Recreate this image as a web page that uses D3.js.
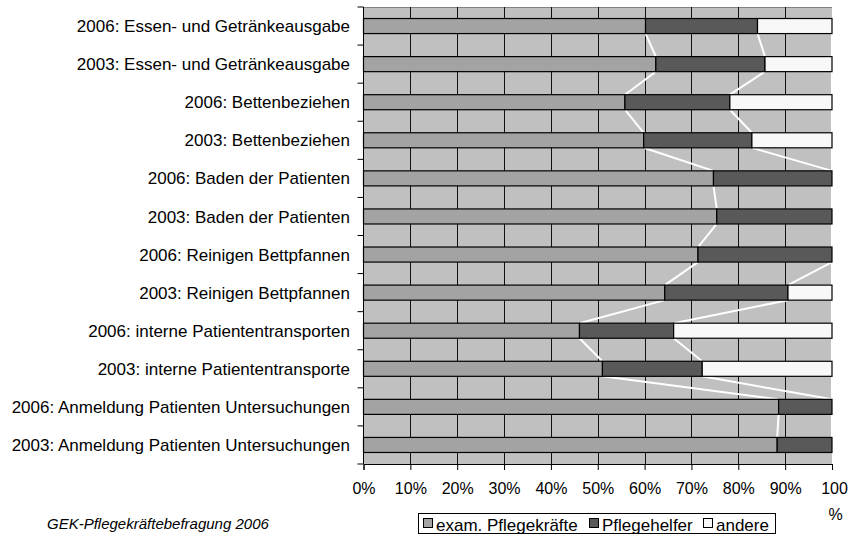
<!DOCTYPE html>
<html>
<head>
<meta charset="utf-8">
<script src="https://cdn.jsdelivr.net/npm/d3@7"></script>
<style>
  html, body { margin: 0; padding: 0; background: #fff; }
  svg { display: block; font-family: "Liberation Sans", Arial, sans-serif; }
</style>
</head>
<body>
<svg id="chart" width="851" height="541"></svg>
<script>
// Categories, top to bottom
const categories = [
  "2006: Essen- und Getränkeausgabe",
  "2003: Essen- und Getränkeausgabe",
  "2006: Bettenbeziehen",
  "2003: Bettenbeziehen",
  "2006: Baden der Patienten",
  "2003: Baden der Patienten",
  "2006: Reinigen Bettpfannen",
  "2003: Reinigen Bettpfannen",
  "2006: interne Patiententransporten",
  "2003: interne Patiententransporte",
  "2006: Anmeldung Patienten Untersuchungen",
  "2003: Anmeldung Patienten Untersuchungen"
];
// Shares in percent per group
const examPflegekraefte = [60.2, 62.4, 55.8, 59.8, 74.7, 75.4, 71.4, 64.3, 46.1, 51.0, 88.6, 88.3];
const pflegehelfer      = [23.9, 23.3, 22.4, 23.1, 25.3, 24.6, 28.6, 26.3, 20.1, 21.3, 11.4, 11.7];
const andere            = [15.9, 14.3, 21.8, 17.1,  0.0,  0.0,  0.0,  9.4, 33.8, 27.7,  0.0,  0.0];

const seriesNames = ["exam. Pflegekräfte", "Pflegehelfer", "andere"];
const seriesKeys = ["exam", "helfer", "andere"];
const colors = ["#a3a3a3", "#595959", "#f8f8f8"];
const xTicks = [0, 10, 20, 30, 40, 50, 60, 70, 80, 90, 100];
const sourceNote = "GEK-Pflegekräftebefragung 2006";

(function drawChart() {
  const rows = categories.map((c, i) => ({
    cat: c, exam: examPflegekraefte[i], helfer: pflegehelfer[i], andere: andere[i]
  }));

  const svg = d3.select("#chart");
  const plotL = 363.5, plotR = 832, plotT = 7, plotB = 464;

  const x = d3.scaleLinear().domain([0, 100]).range([plotL, plotR]);
  const y = d3.scaleBand().domain(categories).range([plotT, plotB])
    .paddingInner(0.605).paddingOuter(0.3025);
  const band = d3.scaleBand().domain(categories).range([plotT, plotB]);

  // plot area background
  svg.append("rect")
    .attr("x", plotL).attr("y", plotT)
    .attr("width", plotR - plotL).attr("height", plotB - plotT)
    .attr("fill", "#c0c0c0");

  // top border
  svg.append("line")
    .attr("x1", plotL).attr("x2", plotR).attr("y1", plotT + 0.5).attr("y2", plotT + 0.5)
    .attr("stroke", "#808080");

  // vertical gridlines
  svg.append("g").selectAll("line")
    .data(xTicks.filter(t => t > 0 && t < 100))
    .join("line")
    .attr("x1", d => Math.round(x(d)) + 0.5).attr("x2", d => Math.round(x(d)) + 0.5)
    .attr("y1", plotT).attr("y2", plotB)
    .attr("stroke", "#111").attr("stroke-width", 1);

  const stack = d3.stack().keys(seriesKeys)(rows);

  // series lines between consecutive bars
  const lineG = svg.append("g");
  stack.forEach(layer => {
    for (let i = 0; i < layer.length - 1; i++) {
      const a = layer[i], b = layer[i + 1];
      lineG.append("line")
        .attr("x1", x(a[1])).attr("y1", y(categories[i]) + y.bandwidth())
        .attr("x2", x(b[1])).attr("y2", y(categories[i + 1]))
        .attr("stroke", "#ffffff").attr("stroke-width", 2);
    }
  });

  // stacked bars
  svg.append("g").selectAll("g")
    .data(stack)
    .join("g")
    .attr("fill", (d, i) => colors[i])
    .selectAll("rect")
    .data(d => d.map((v, i) => ({ v, cat: categories[i] })).filter(e => e.v[1] - e.v[0] > 0))
    .join("rect")
    .attr("x", d => x(d.v[0]))
    .attr("y", d => y(d.cat))
    .attr("width", d => x(d.v[1]) - x(d.v[0]))
    .attr("height", y.bandwidth())
    .attr("stroke", "#000").attr("stroke-width", 1.2);

  // left axis with ticks at band boundaries
  svg.append("line")
    .attr("x1", plotL).attr("x2", plotL).attr("y1", plotT).attr("y2", plotB)
    .attr("stroke", "#000");
  const boundaries = categories.map(c => band(c)).concat([plotB]);
  svg.append("g").selectAll("line")
    .data(boundaries).join("line")
    .attr("x1", plotL - 6).attr("x2", plotL)
    .attr("y1", d => d).attr("y2", d => d)
    .attr("stroke", "#000");

  // category labels
  svg.append("g").selectAll("text")
    .data(categories).join("text")
    .attr("x", 350)
    .attr("y", d => y(d) + y.bandwidth() / 2)
    .attr("dy", "0.36em")
    .attr("text-anchor", "end")
    .attr("font-size", 17)
    .attr("fill", "#000")
    .text(d => d);

  // bottom axis
  const xAxis = d3.axisBottom(x).tickValues(xTicks).tickSize(6).tickFormat(d => d + "%");
  const gx = svg.append("g").attr("transform", `translate(0,${plotB})`).call(xAxis);
  gx.select(".domain").attr("stroke", "#000");
  gx.selectAll(".tick line").attr("stroke", "#000");
  gx.selectAll(".tick text")
    .attr("font-size", 16).attr("fill", "#000")
    .attr("font-family", "Liberation Sans, Arial, sans-serif")
    .attr("y", 30).attr("dy", 0);
  // the last label wraps onto two lines
  gx.selectAll(".tick text").filter(d => d === 100).each(function() {
    const t = d3.select(this);
    t.text(null);
    t.append("tspan").attr("x", 2).text("100");
    t.append("tspan").attr("x", 3).attr("dy", "1.6em").text("%");
  });

  // legend
  const legend = svg.append("g");
  legend.append("rect")
    .attr("x", 418.5).attr("y", 513.5).attr("width", 357).attr("height", 20)
    .attr("fill", "#fff").attr("stroke", "#000");
  const legendX = [423, 589, 703];
  seriesNames.forEach((name, i) => {
    legend.append("rect")
      .attr("x", legendX[i] + 0.5).attr("y", 518.5).attr("width", 9).attr("height", 9)
      .attr("fill", colors[i]).attr("stroke", "#000");
    legend.append("text")
      .attr("x", legendX[i] + 13).attr("y", 531)
      .attr("font-size", 17).attr("fill", "#000")
      .text(name);
  });

  // source note
  svg.append("text")
    .attr("x", 47).attr("y", 529)
    .attr("font-size", 15).attr("font-style", "italic").attr("fill", "#000")
    .text(sourceNote);
})();
</script>
</body>
</html>
